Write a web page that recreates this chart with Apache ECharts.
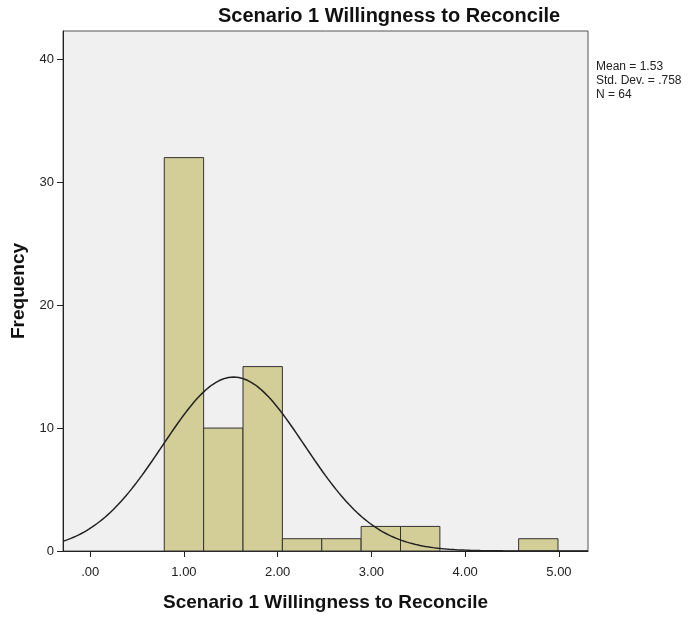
<!DOCTYPE html>
<html>
<head>
<meta charset="utf-8">
<script src="https://cdn.jsdelivr.net/npm/echarts@6/dist/echarts.min.js"></script>
<style>
  html, body { margin: 0; padding: 0; background: #fff; }
  #chart { width: 699px; height: 617px; }
</style>
</head>
<body>
<div id="chart"></div>
<script>
// Histogram bins (lower edge, upper edge) and their frequencies
const binStarts = [0.79, 1.21, 1.63, 2.05, 2.47, 2.89, 3.31, 3.73, 4.15, 4.57];
const binEnds   = [1.21, 1.63, 2.05, 2.47, 2.89, 3.31, 3.73, 4.15, 4.57, 4.99];
const counts    = [32, 10, 15, 1, 1, 2, 2, 0, 0, 1];

// Summary statistics shown beside the plot
const mean = 1.53;
const stdDev = 0.758;
const n = 64;
const statLines = ['Mean = 1.53', 'Std. Dev. = .758', 'N = 64'];

const xTicks = [0, 1, 2, 3, 4, 5];
const yTicks = [0, 10, 20, 30, 40];
const xMin = -0.29, xMax = 5.31;
const yMin = 0, yMax = 42.3;

// Fitted normal curve scaled to counts (N * bin width * density)
const binWidth = binEnds[0] - binStarts[0];
const curve = [];
const steps = 200;
for (let i = 0; i <= steps; i++) {
  const x = xMin + (xMax - xMin) * i / steps;
  const z = (x - mean) / stdDev;
  const y = n * binWidth * Math.exp(-0.5 * z * z) / (stdDev * Math.sqrt(2 * Math.PI));
  curve.push([x, y]);
}

const bars = counts.map((c, i) => [binStarts[i], binEnds[i], c]);

const font = '"Liberation Sans", Arial, sans-serif';
const chart = echarts.init(document.getElementById('chart'), null, { renderer: 'canvas' });

chart.setOption({
  backgroundColor: '#ffffff',
  animation: false,
  title: {
    text: 'Scenario 1 Willingness to Reconcile',
    left: 213,
    top: 1,
    textStyle: { fontFamily: font, fontSize: 20, fontWeight: 'bold', color: '#111' }
  },
  grid: {
    left: 63, right: 111, top: 31, bottom: 66,
    outerBoundsMode: 'none',
    containLabel: false,
    show: true, backgroundColor: '#f0f0f0', borderColor: '#555', borderWidth: 1
  },
  xAxis: {
    type: 'value',
    min: xMin, max: xMax,
    name: 'Scenario 1 Willingness to Reconcile',
    nameLocation: 'middle',
    nameGap: 42,
    nameTextStyle: { fontFamily: font, fontSize: 19, fontWeight: 'bold', color: '#111' },
    axisLine: { show: true, onZero: false, lineStyle: { color: '#222', width: 1 } },
    axisTick: { show: true, inside: false, length: 6, customValues: xTicks, lineStyle: { color: '#222' } },
    axisLabel: {
      customValues: xTicks,
      margin: 15,
      fontFamily: font, fontSize: 13, color: '#222',
      formatter: v => (v === 0 ? '.00' : v.toFixed(2))
    },
    splitLine: { show: false }
  },
  yAxis: {
    type: 'value',
    min: yMin, max: yMax,
    name: 'Frequency',
    nameLocation: 'middle',
    nameGap: 35,
    nameTextStyle: { fontFamily: font, fontSize: 19, fontWeight: 'bold', color: '#111' },
    axisLine: { show: true, onZero: false, lineStyle: { color: '#222', width: 1 } },
    axisTick: { show: true, inside: false, length: 6, customValues: yTicks, lineStyle: { color: '#222' } },
    axisLabel: { customValues: yTicks, margin: 9, fontFamily: font, fontSize: 13, color: '#222' },
    splitLine: { show: false }
  },
  graphic: statLines.map((t, i) => ({
    type: 'text',
    left: 596,
    top: 61 + i * 14,
    style: { text: t, fontFamily: font, fontSize: 12, fill: '#222' }
  })),
  series: [
    {
      type: 'custom',
      data: bars,
      encode: { x: [0, 1], y: 2 },
      renderItem: (params, api) => {
        const p0 = api.coord([api.value(0), api.value(2)]);
        const p1 = api.coord([api.value(1), 0]);
        const h = p1[1] - p0[1];
        if (h <= 0) return null;
        return {
          type: 'rect',
          shape: { x: p0[0], y: p0[1], width: p1[0] - p0[0], height: h },
          style: { fill: '#d3ce97', stroke: '#333', lineWidth: 1 }
        };
      },
      z: 2
    },
    {
      type: 'line',
      data: curve,
      showSymbol: false,
      smooth: false,
      lineStyle: { color: '#222', width: 1.5 },
      z: 3
    }
  ]
});
</script>
</body>
</html>
